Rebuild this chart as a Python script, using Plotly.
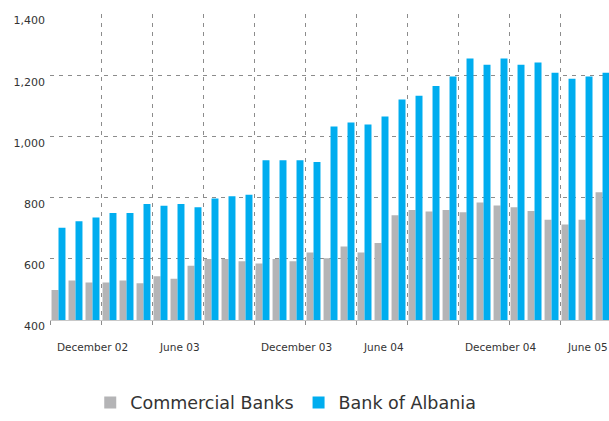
import plotly.graph_objects as go

# Monthly series, December 2002 - August 2005
months = [
    "Dec 02", "Jan 03", "Feb 03", "Mar 03", "Apr 03", "May 03", "Jun 03", "Jul 03", "Aug 03",
    "Sep 03", "Oct 03", "Nov 03", "Dec 03", "Jan 04", "Feb 04", "Mar 04", "Apr 04", "May 04",
    "Jun 04", "Jul 04", "Aug 04", "Sep 04", "Oct 04", "Nov 04", "Dec 04", "Jan 05", "Feb 05",
    "Mar 05", "Apr 05", "May 05", "Jun 05", "Jul 05", "Aug 05",
]
commercial_banks = [
    498, 529, 523, 523, 529, 520, 543, 535, 578, 600, 600, 592, 585, 600, 592, 621, 602,
    641, 621, 652, 743, 760, 755, 760, 753, 785, 775, 769, 757, 728, 713, 728, 818,
]
bank_of_albania = [
    702, 723, 736, 750, 750, 780, 774, 780, 769, 798, 805, 810, 923, 923, 923, 917, 1034,
    1047, 1040, 1066, 1122, 1134, 1166, 1197, 1256, 1236, 1256, 1236, 1243, 1210, 1190, 1197, 1210,
]
axis_labels = {0: "December 02", 6: "June 03", 12: "December 03",
               18: "June 04", 24: "December 04", 30: "June 05"}
y_ticks = [400, 600, 800, 1000, 1200, 1400]

GREY = "#b4b4b6"
BLUE = "#00adef"
GRID = "#8c8c8c"
FONT = "DejaVu Sans"

x = list(range(len(months)))

fig = go.Figure()
fig.add_trace(go.Bar(x=x, y=commercial_banks, name="Commercial Banks",
                     marker=dict(color=GREY, line=dict(width=0)),
                     customdata=months))
fig.add_trace(go.Bar(x=x, y=bank_of_albania, name="Bank of Albania",
                     marker=dict(color=BLUE, line=dict(width=0)),
                     customdata=months))

# quarter boundaries carry the vertical grid and the small axis ticks
quarter_edges = [i - 0.5 for i in range(0, len(months) + 1, 3)]

fig.update_layout(
    width=609, height=421,
    margin=dict(l=50, r=0, t=14, b=91),
    paper_bgcolor="white", plot_bgcolor="white",
    barmode="group", bargap=0.18, bargroupgap=0,
    font=dict(family=FONT, color="#333333"),
    showlegend=True,
    legend=dict(orientation="h", x=0.072, y=-0.27, xanchor="left", yanchor="middle",
                font=dict(size=17.5, color="#333333", family=FONT),
                itemwidth=30, traceorder="normal", bgcolor="rgba(0,0,0,0)"),
    xaxis=dict(
        range=[-0.5, len(months) - 0.62],
        tickmode="array", tickvals=quarter_edges, showticklabels=False,
        ticks="outside", ticklen=4, tickcolor="#8c8c8c", tickwidth=1,
        showgrid=True, gridcolor=GRID, griddash="4px,5px", gridwidth=1,
        showline=True, linecolor="#c8c8c8", linewidth=1,
        zeroline=False, fixedrange=True,
    ),
    yaxis=dict(
        range=[400, 1402],
        tickmode="array", tickvals=y_ticks,
        ticktext=[f"{v:,}" for v in y_ticks],
        tickfont=dict(size=11, color="#333333", family=FONT),
        ticklabelshift=6, ticklabelstandoff=4,
        showgrid=True, gridcolor=GRID, griddash="4px,5px", gridwidth=1,
        zeroline=False, showline=False, fixedrange=True,
    ),
)

for idx, text in axis_labels.items():
    fig.add_annotation(x=idx - 0.5, y=0, xref="x", yref="paper",
                       text=text, showarrow=False,
                       xanchor="left", yanchor="middle", xshift=5, yshift=-27,
                       font=dict(size=10.5, color="#333333", family=FONT))

fig.write_html("out.html")
